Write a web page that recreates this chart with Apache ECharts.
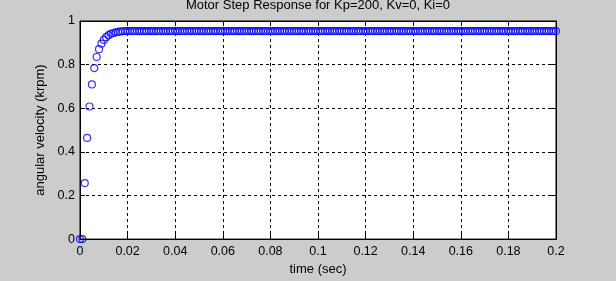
<!DOCTYPE html>
<html>
<head>
<meta charset="utf-8">
<script src="https://cdn.jsdelivr.net/npm/echarts@6/dist/echarts.min.js"></script>
<style>
html,body{margin:0;padding:0;background:#cccccc;}
#c{width:616px;height:281px;}
</style>
</head>
<body>
<div id="c"></div>
<script>
var titleText = "Motor Step Response for Kp=200, Kv=0, Ki=0";
var xName = "time (sec)";
var yName = "angular velocity (krpm)";
var sampleStep = 0.001;
var xTicks = [0, 0.02, 0.04, 0.06, 0.08, 0.1, 0.12, 0.14, 0.16, 0.18, 0.2];
var yTicks = [0, 0.2, 0.4, 0.6, 0.8, 1];
var speed = [
  0, 0, 0.257, 0.464, 0.608, 0.709, 0.784, 0.835, 0.871, 0.896,
  0.913, 0.926, 0.935, 0.941, 0.945, 0.948, 0.950, 0.952, 0.953, 0.954,
  0.954, 0.954, 0.954, 0.954, 0.954, 0.954, 0.954, 0.954, 0.954, 0.954,
  0.954, 0.954, 0.954, 0.954, 0.954, 0.954, 0.954, 0.954, 0.954, 0.954,
  0.954, 0.954, 0.954, 0.954, 0.954, 0.954, 0.954, 0.954, 0.954, 0.954,
  0.954, 0.954, 0.954, 0.954, 0.954, 0.954, 0.954, 0.954, 0.954, 0.954,
  0.954, 0.954, 0.954, 0.954, 0.954, 0.954, 0.954, 0.954, 0.954, 0.954,
  0.954, 0.954, 0.954, 0.954, 0.954, 0.954, 0.954, 0.954, 0.954, 0.954,
  0.954, 0.954, 0.954, 0.954, 0.954, 0.954, 0.954, 0.954, 0.954, 0.954,
  0.954, 0.954, 0.954, 0.954, 0.954, 0.954, 0.954, 0.954, 0.954, 0.954,
  0.954, 0.954, 0.954, 0.954, 0.954, 0.954, 0.954, 0.954, 0.954, 0.954,
  0.954, 0.954, 0.954, 0.954, 0.954, 0.954, 0.954, 0.954, 0.954, 0.954,
  0.954, 0.954, 0.954, 0.954, 0.954, 0.954, 0.954, 0.954, 0.954, 0.954,
  0.954, 0.954, 0.954, 0.954, 0.954, 0.954, 0.954, 0.954, 0.954, 0.954,
  0.954, 0.954, 0.954, 0.954, 0.954, 0.954, 0.954, 0.954, 0.954, 0.954,
  0.954, 0.954, 0.954, 0.954, 0.954, 0.954, 0.954, 0.954, 0.954, 0.954,
  0.954, 0.954, 0.954, 0.954, 0.954, 0.954, 0.954, 0.954, 0.954, 0.954,
  0.954, 0.954, 0.954, 0.954, 0.954, 0.954, 0.954, 0.954, 0.954, 0.954,
  0.954, 0.954, 0.954, 0.954, 0.954, 0.954, 0.954, 0.954, 0.954, 0.954,
  0.954, 0.954, 0.954, 0.954, 0.954, 0.954, 0.954, 0.954, 0.954, 0.954,
  0.954
];

var pts = speed.map(function (v, i) { return [+(i * sampleStep).toFixed(3), v]; });
var font = "'Liberation Sans', Arial, sans-serif";
var chart = echarts.init(document.getElementById('c'), null, {renderer: 'canvas'});

function tickFmtX(v) { return String(+v.toFixed(2)); }
function tickFmtY(v) { return String(+v.toFixed(1)); }

var baseAxisX = {
  type: 'value', min: xTicks[0], max: xTicks[xTicks.length - 1],
  interval: xTicks[1] - xTicks[0]
};
var baseAxisY = {
  type: 'value', min: yTicks[0], max: yTicks[yTicks.length - 1],
  interval: yTicks[1] - yTicks[0]
};

chart.setOption({
  backgroundColor: '#cccccc',
  animation: false,
  title: {
    text: titleText, left: 318, top: -1, textAlign: 'center', padding: 0,
    textStyle: {fontFamily: font, fontSize: 13, fontWeight: 'normal', color: '#000'}
  },
  grid: {
    left: 80, right: 60, top: 21, bottom: 32,
    show: true, backgroundColor: '#ffffff', borderColor: '#000', borderWidth: 1
  },
  xAxis: [
    Object.assign({}, baseAxisX, {
      position: 'bottom',
      name: xName, nameLocation: 'middle', nameGap: 22,
      nameTextStyle: {fontFamily: font, fontSize: 13, color: '#000'},
      axisLine: {show: true, onZero: false, lineStyle: {color: '#000', width: 1}},
      axisTick: {show: true, inside: true, length: 5, lineStyle: {color: '#000'}},
      axisLabel: {fontFamily: font, fontSize: 12.5, color: '#000', margin: 6, formatter: tickFmtX},
      splitLine: {show: true, lineStyle: {color: '#000', type: [3, 3], width: 1}}
    }),
    Object.assign({}, baseAxisX, {
      position: 'top',
      axisLine: {show: true, onZero: false, lineStyle: {color: '#000', width: 1}},
      axisTick: {show: true, inside: true, length: 5, lineStyle: {color: '#000'}},
      axisLabel: {show: false},
      splitLine: {show: false}
    })
  ],
  yAxis: [
    Object.assign({}, baseAxisY, {
      position: 'left',
      name: yName, nameLocation: 'middle', nameGap: 27, nameRotate: 90,
      nameTextStyle: {fontFamily: font, fontSize: 13, color: '#000'},
      axisLine: {show: true, onZero: false, lineStyle: {color: '#000', width: 1}},
      axisTick: {show: true, inside: true, length: 5, lineStyle: {color: '#000'}},
      axisLabel: {fontFamily: font, fontSize: 12.5, color: '#000', margin: 5, formatter: tickFmtY},
      splitLine: {show: true, lineStyle: {color: '#000', type: [3, 3], width: 1}}
    }),
    Object.assign({}, baseAxisY, {
      position: 'right',
      axisLine: {show: true, onZero: false, lineStyle: {color: '#000', width: 1}},
      axisTick: {show: true, inside: true, length: 5, lineStyle: {color: '#000'}},
      axisLabel: {show: false},
      splitLine: {show: false}
    })
  ],
  series: [{
    type: 'scatter',
    xAxisIndex: 0, yAxisIndex: 0,
    data: pts,
    symbol: 'circle',
    symbolSize: 7,
    clip: false,
    itemStyle: {color: 'rgba(0,0,0,0)', borderColor: '#0000ff', borderWidth: 1.2},
    emphasis: {disabled: true},
    z: 5
  }]
});
</script>
</body>
</html>
